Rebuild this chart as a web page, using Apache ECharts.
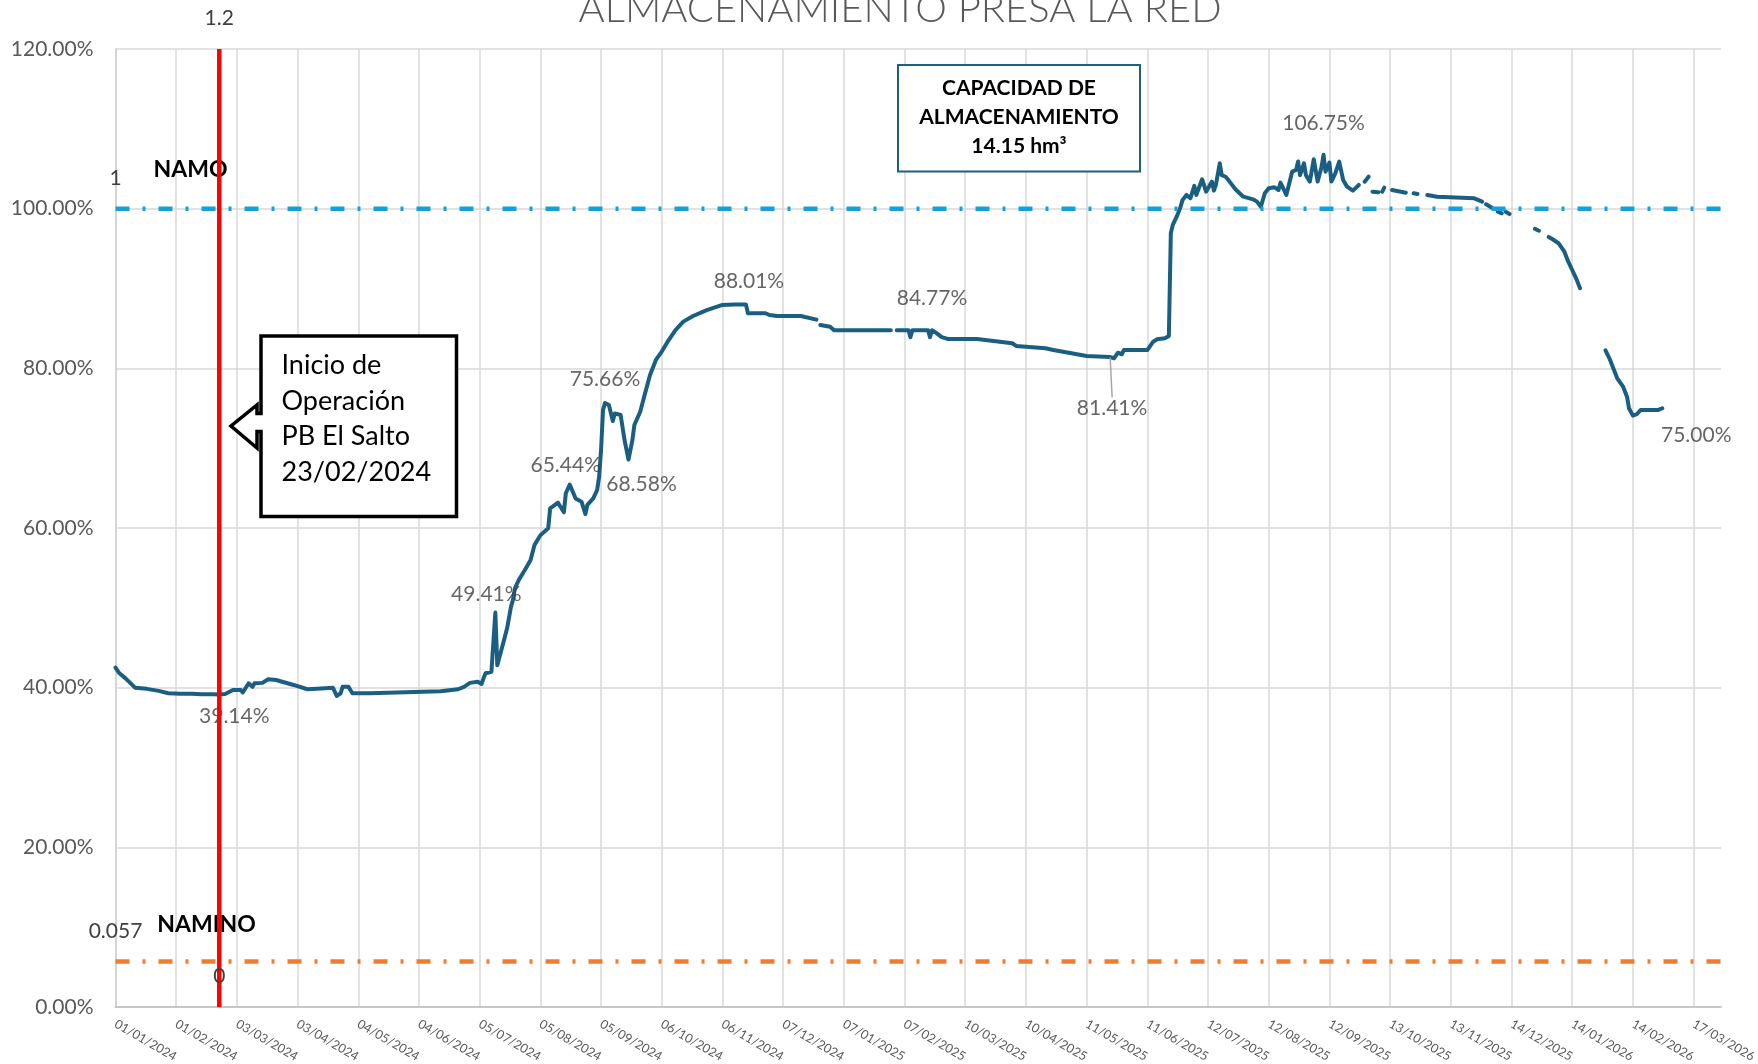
<!DOCTYPE html>
<html><head><meta charset="utf-8">
<script src="https://cdn.jsdelivr.net/npm/echarts@6/dist/echarts.min.js"></script>
<style>html,body{margin:0;padding:0;background:#fff}#c{width:1758px;height:1064px}</style>
</head><body><div id="c"></div>
<script>
// ---- DATA ----
// x = days elapsed since 01/01/2024 ; null = no record that day
const fechaInicio = Date.UTC(2024, 0, 1);
const dias = [
  0,2,5,10,16,22,27,33,39,44,50,53,56,60,64,65,68,70,71,75,78,82,91,98,105,111,113,115,116,119,121,130,157,166,175,178,181,185,187,188,189,192,193,194,195,196,198,200,202,203,204,206,209,212,214,217,221,222,226,227,229,230,232,235,236,238,240,241,244,246,247,248,249,250,252,254,255,258,260,262,264,265,268,270,273,276,279,282,286,290,295,302,310,316,322,323,332,334,338,350,358,
  359,
  360,365,367,396,
  397,
  399,405,406,407,415,416,417,419,422,425,440,458,460,475,479,496,508,510,512,514,515,527,530,532,536,538,539,540,542,544,545,547,549,551,552,555,557,558,560,561,562,564,565,567,569,572,576,581,583,585,587,589,590,592,594,595,598,599,601,603,604,605,607,608,610,612,614,616,617,618,620,621,623,625,627,629,632,635,
  636,638,640,641,642,645,646,647,648,650,652,659,661,663,665,667,670,675,694,698,699,700,703,705,706,708,709,710,712,713,725,727,729,
  732,734,737,740,742,744,746,748,750,
  761,763,765,767,770,772,773,775,777,779,782,788,790
];
const almacenamiento = [
  0.4250,0.4180,0.4120,0.4000,0.3985,0.3960,0.3930,0.3925,0.3925,0.3918,0.3916,0.3914,0.3920,0.3970,0.3970,0.3940,0.4055,0.4010,0.4055,0.4060,0.4105,0.4096,0.4034,0.3980,0.3990,0.4000,0.3896,0.3930,0.4010,0.4010,0.3930,0.3930,0.3950,0.3955,0.3980,0.4010,0.4060,0.4075,0.4046,0.4120,0.4180,0.4200,0.4220,0.4941,0.4280,0.4305,0.4556,0.4744,0.5015,0.5100,0.5245,0.5350,0.5470,0.5600,0.5787,0.5910,0.5996,0.6247,0.6317,0.6310,0.6197,0.6435,0.6544,0.6370,0.6350,0.6330,0.6175,0.6290,0.6370,0.6476,0.6640,0.6977,0.7480,0.7566,0.7540,0.7340,0.7435,0.7416,0.7100,0.6858,0.7100,0.7290,0.7457,0.7645,0.7917,0.8105,0.8210,0.8334,0.8480,0.8585,0.8656,0.8730,0.8794,0.8801,0.8801,0.8690,0.8690,0.8668,0.8656,0.8656,0.8610,
  null,
  0.8543,0.8520,0.8477,0.8477,
  null,
  0.8477,0.8477,0.8390,0.8477,0.8477,0.8390,0.8477,0.8447,0.8390,0.8368,0.8368,0.8314,0.8280,0.8251,0.8230,0.8155,0.8141,0.8126,0.8196,0.8176,0.8230,0.8230,0.8334,0.8364,0.8376,0.8405,0.9692,0.9796,0.9900,1.0025,1.0110,1.0172,1.0130,1.0285,1.0172,1.0368,1.0213,1.0226,1.0339,1.0226,1.0297,1.0568,1.0420,1.0400,1.0339,1.0243,1.0150,1.0117,1.0088,1.0025,1.0193,1.0255,1.0234,1.0268,1.0234,1.0326,1.0172,1.0193,1.0465,1.0485,1.0590,1.0420,1.0568,1.0420,1.0339,1.0618,1.0339,1.0526,1.0675,1.0463,1.0577,1.0339,1.0443,1.0590,1.0360,1.0276,1.0226,1.0297,
  null,1.0338,1.0401,null,1.0213,1.0205,null,1.0213,1.0263,null,1.0234,1.0200,null,1.0193,1.0184,null,1.0172,1.0150,1.0130,1.0088,null,1.0055,1.0012,null,0.9962,0.9942,null,0.9962,0.9933,null,0.9746,0.9724,null,
  0.9646,0.9617,0.9567,0.9461,0.9336,0.9232,0.9128,0.9003,null,
  0.8225,0.8126,0.8000,0.7875,0.7770,0.7645,0.7500,0.7407,0.7425,0.7479,0.7479,0.7479,0.7500
];
const diasEtiquetados = [53, 194, 232, 250, 262, 322, 417, 508, 617, 790];
const diaInicioOperacion = 53;          // 23/02/2024
const extremosLineaInicio = [0, 1.2];
const NAMO = 1;
const NAMINO = 0.057;
const ejeXDias = { min: 0, max: 820, intervalo: 31 };
const ejeYValores = { min: 0, max: 1.2, intervalo: 0.2 };
const titulo = 'ALMACENAMIENTO PRESA LA RED';
const textoCapacidad = 'CAPACIDAD DE\nALMACENAMIENTO\n14.15 hm³';
const textoInicio = 'Inicio de\nOperación\nPB El Salto\n23/02/2024';

// ---- STYLE ----
const FONT = 'Lato, "Open Sans", sans-serif';
const labelBase = { show: true, fontFamily: FONT, fontSize: 21, color: '#404040' };
const colocacion = {
  53:  { position: 'bottom', distance: 11, dx: 15, dy: 0 },
  194: { position: 'top', distance: 7, dx: -9, dy: 0 },
  232: { position: 'top', distance: 8, dx: -4, dy: 0 },
  250: { position: 'top', distance: 13, dx: 0, dy: 0 },
  262: { position: 'bottom', distance: 14, dx: 13, dy: 0 },
  322: { position: 'top', distance: 12, dx: 3, dy: 0 },
  417: { position: 'top', distance: 21, dx: 0, dy: 0 },
  508: { position: 'bottom', distance: 0, dx: 2, dy: 40, guia: true },
  617: { position: 'top', distance: 21, dx: 0, dy: 0 },
  790: { position: 'bottom', distance: 16, dx: 34, dy: 0 }
};
const pct = v => (v * 100).toFixed(2) + '%';
const fmtFecha = d => {
  const t = new Date(fechaInicio + d * 86400000);
  const p = n => String(n).padStart(2, '0');
  return p(t.getUTCDate()) + '/' + p(t.getUTCMonth() + 1) + '/' + t.getUTCFullYear();
};

const serieDatos = dias.map((d, i) => [d, almacenamiento[i]]);
const etiquetas = diasEtiquetados.map(d => {
  const i = dias.indexOf(d);
  const c = colocacion[d];
  return {
    value: [d, almacenamiento[i]],
    label: Object.assign({}, labelBase, { position: c.position, distance: c.distance, formatter: p => pct(p.value[1]) }),
    labelLine: { show: !!c.guia, lineStyle: { color: '#a6a6a6', width: 1.5 } }
  };
});

const refLabel = Object.assign({}, labelBase, { position: 'top', distance: 20, formatter: p => String(p.value[1]) });

const chart = echarts.init(document.getElementById('c'), null, { renderer: 'canvas' });
chart.setOption({
  animation: false,
  backgroundColor: '#ffffff',
  grid: { left: 115.5, right: 37, top: 49, bottom: 57, containLabel: false, outerBoundsMode: 'none' },
  xAxis: {
    type: 'value', min: ejeXDias.min, max: ejeXDias.max, interval: ejeXDias.intervalo,
    axisLine: { show: true, lineStyle: { color: '#c6c6c6', width: 2 } },
    axisTick: { show: false },
    axisLabel: { rotate: -30, margin: 16, fontFamily: FONT, fontSize: 12.5, color: '#595959',
      showMaxLabel: false, showMinLabel: true, formatter: v => fmtFecha(v) },
    splitLine: { show: true, showMaxLine: false, lineStyle: { color: '#d9d9d9', width: 1.5 } }
  },
  yAxis: {
    type: 'value', min: ejeYValores.min, max: ejeYValores.max, interval: ejeYValores.intervalo,
    axisLine: { show: true, lineStyle: { color: '#d0d0d0', width: 1.5 } },
    axisTick: { show: false },
    axisLabel: { margin: 22, fontFamily: FONT, fontSize: 21, color: '#595959', formatter: v => pct(v) },
    splitLine: { show: true, lineStyle: { color: '#d9d9d9', width: 1.5 } }
  },
  series: [
    {
      name: 'Almacenamiento', type: 'line', data: serieDatos, showSymbol: false, connectNulls: false,
      lineStyle: { color: '#1a5f82', width: 4, join: 'round', cap: 'round' }, z: 2, silent: true
    },
    {
      name: 'NAMO', type: 'line', z: 2, silent: true, clip: false,
      data: [{ value: [ejeXDias.min, NAMO], label: refLabel }, { value: [ejeXDias.max, NAMO] }],
      symbol: 'circle', symbolSize: 0.1, itemStyle: { color: 'rgba(0,0,0,0)' },
      lineStyle: { color: '#16a0d8', width: 4.5, type: [14, 13, 3, 13] }
    },
    {
      name: 'NAMINO', type: 'line', z: 2, silent: true, clip: false,
      data: [{ value: [ejeXDias.min, NAMINO], label: refLabel }, { value: [ejeXDias.max, NAMINO] }],
      symbol: 'circle', symbolSize: 0.1, itemStyle: { color: 'rgba(0,0,0,0)' },
      lineStyle: { color: '#ed7d31', width: 4.5, type: [14, 13, 3, 13] }
    },
    {
      name: 'Etiquetas', type: 'scatter', z: 3, silent: true, data: etiquetas,
      symbol: 'circle', symbolSize: 1, itemStyle: { color: 'rgba(0,0,0,0)' },
      labelLayout: p => {
        const c = colocacion[diasEtiquetados[p.dataIndex]];
        return { dx: c.dx, dy: c.dy };
      }
    },
    {
      name: 'Inicio', type: 'line', z: 5, silent: true, clip: false,
      data: extremosLineaInicio.map(v => ({ value: [diaInicioOperacion, v], label: refLabel })),
      symbol: 'circle', symbolSize: 0.1, itemStyle: { color: 'rgba(0,0,0,0)' },
      lineStyle: { color: '#ff0000', width: 4.5 }
    }
  ],
  graphic: [
    { type: 'text', z: 1, style: { text: titulo, x: 900, y: 29, textAlign: 'center', textVerticalAlign: 'bottom',
      font: '300 40px ' + FONT, fill: '#595959' } },
    { type: 'text', z: 1, style: { text: 'NAMO', x: 190.6, y: 169.3, textAlign: 'center', textVerticalAlign: 'middle',
      font: 'bold 23px ' + FONT, fill: '#000' } },
    { type: 'text', z: 1, style: { text: 'NAMINO', x: 206.5, y: 925, textAlign: 'center', textVerticalAlign: 'middle',
      font: 'bold 23px ' + FONT, fill: '#000' } },
    { type: 'rect', z: 10, shape: { x: 898, y: 65, width: 242, height: 106.5 },
      style: { fill: '#fff', stroke: '#1f5f80', lineWidth: 2 } },
    { type: 'text', z: 11, style: { text: textoCapacidad, x: 1019, y: 117.7, textAlign: 'center', textVerticalAlign: 'middle',
      font: 'bold 21px ' + FONT, lineHeight: 29, fill: '#000' } },
    { type: 'polygon', z: 10, shape: { points: [[261,336],[456.5,336],[456.5,516.5],[261,516.5],[261,431.5],[257,431.5],[257,448],[231,426],[257,405],[257,413.5],[261,413.5]] },
      style: { fill: '#fff', stroke: '#000', lineWidth: 3.5, lineJoin: 'miter' } },
    { type: 'text', z: 11, style: { text: textoInicio, x: 281.5, y: 418.7, textAlign: 'left', textVerticalAlign: 'middle',
      font: '27px ' + FONT, lineHeight: 35.5, fill: '#000' } }
  ]
});
</script></body></html>
